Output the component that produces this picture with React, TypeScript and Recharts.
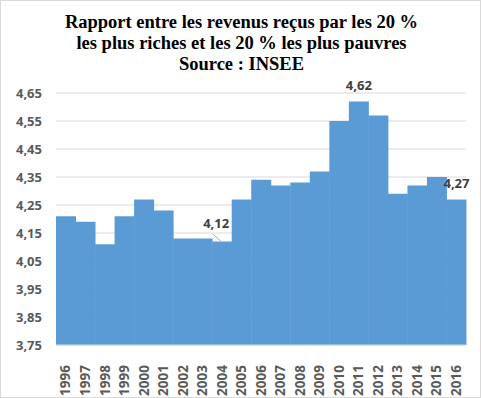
import React from "react";
import { BarChart, Bar, XAxis, YAxis, CartesianGrid, LabelList } from "recharts";

const years = [
  "1996", "1997", "1998", "1999", "2000", "2001", "2002", "2003", "2004", "2005", "2006",
  "2007", "2008", "2009", "2010", "2011", "2012", "2013", "2014", "2015", "2016",
];
const ratios = [
  4.21, 4.19, 4.11, 4.21, 4.27, 4.23, 4.13, 4.13, 4.12, 4.27, 4.34,
  4.32, 4.33, 4.37, 4.55, 4.62, 4.57, 4.29, 4.32, 4.35, 4.27,
];
const labelledYears = ["2004", "2011", "2016"];
const yTicks = [3.75, 3.85, 3.95, 4.05, 4.15, 4.25, 4.35, 4.45, 4.55, 4.65];
const titleLines = [
  "Rapport entre les revenus reçus par les 20 %",
  "les plus riches et les 20 % les plus pauvres",
  "Source : INSEE",
];

const data = years.map((year, i) => ({ year, value: ratios[i] }));

const fmt = (v: number) => v.toFixed(2).replace(".", ",");

const XTick = (props: any) => {
  const { x, y, payload } = props;
  return (
    <text
      x={x}
      y={y}
      transform={`rotate(-90, ${x}, ${y})`}
      textAnchor="end"
      dy="0.35em"
      dx={-12}
      fill="#595959"
      fontSize={13.5}
      fontWeight={700}
      fontFamily="'Open Sans', sans-serif"
    >
      {payload.value}
    </text>
  );
};

const ValueLabel = (props: any) => {
  const { x, y, width, index, value } = props;
  if (!labelledYears.includes(years[index])) return null;
  const cx = x + width / 2;
  const shifted = years[index] === "2004";
  return (
    <g>
      {shifted && <line x1={cx - 9} y1={y - 7} x2={cx - 1} y2={y} stroke="#a6a6a6" strokeWidth={1} />}
      <text
        x={shifted ? cx - 6 : cx}
        y={shifted ? y - 13 : y - 11}
        textAnchor="middle"
        fill="#404040"
        fontSize={13}
        fontWeight={700}
        fontFamily="'Open Sans', sans-serif"
      >
        {fmt(value)}
      </text>
    </g>
  );
};

export default function App() {
  return (
    <div
      style={{
        position: "absolute",
        left: 0,
        top: 0,
        width: 479,
        height: 396,
        border: "1px solid #d9d9d9",
        background: "#fff",
      }}
    >
      <div
        style={{
          position: "absolute",
          top: 11,
          left: 0,
          width: 481,
          textAlign: "center",
          fontFamily: "'Liberation Serif', serif",
          fontWeight: 700,
          fontSize: 18.5,
          lineHeight: "21px",
          color: "#000",
        }}
      >
        {titleLines.map((t) => (
          <div key={t}>{t}</div>
        ))}
      </div>
      <BarChart
        width={481}
        height={398}
        data={data}
        margin={{ top: 93, right: 15, left: 0, bottom: 8 }}
        barCategoryGap={0}
        style={{ position: "absolute", left: -1, top: -1 }}
      >
        <CartesianGrid vertical={false} stroke="#d9d9d9" />
        <XAxis
          dataKey="year"
          interval={0}
          height={45}
          tickLine={false}
          axisLine={{ stroke: "#d9d9d9" }}
          tick={<XTick />}
        />
        <YAxis
          width={56}
          domain={[3.75, 4.65]}
          ticks={yTicks}
          allowDataOverflow
          tickFormatter={fmt}
          tickLine={false}
          axisLine={false}
          tickMargin={8}
          tick={{ fill: "#595959", fontSize: 13, fontWeight: 700, fontFamily: "'Open Sans', sans-serif" }}
        />
        <Bar dataKey="value" fill="#5b9bd5" isAnimationActive={false}>
          <LabelList dataKey="value" content={<ValueLabel />} />
        </Bar>
      </BarChart>
    </div>
  );
}
